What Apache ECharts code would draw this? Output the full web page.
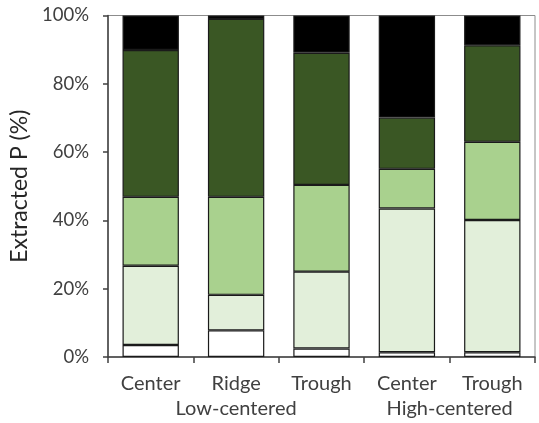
<!DOCTYPE html>
<html>
<head>
<meta charset="utf-8">
<script src="https://cdn.jsdelivr.net/npm/echarts@6/dist/echarts.min.js"></script>
<style>
  html, body { margin: 0; padding: 0; background: #fff; }
  #chart { width: 539px; height: 423px; }
</style>
</head>
<body>
<div id="chart"></div>
<script>
// Sites along the x axis and the landform group each belongs to
const categories = ['Center', 'Ridge', 'Trough', 'Center', 'Trough'];
const groups = ['Low-centered', 'High-centered'];
const groupSpans = [3, 2];

// Share of extracted P per fraction (%), bottom to top of each bar
const fraction1 = [3.5, 7.8, 2.5, 1.4, 1.4];
const fraction2 = [23.2, 10.4, 22.5, 42.1, 38.7];
const fraction3 = [20.2, 28.7, 25.4, 11.6, 22.9];
const fraction4 = [43.0, 52.1, 38.7, 15.0, 28.3];
const fraction5 = [10.1, 1.0, 10.9, 29.9, 8.7];

const yTicks = [0, 20, 40, 60, 80, 100];

const fractions = [fraction1, fraction2, fraction3, fraction4, fraction5];
const fills = ['#ffffff', '#e2efda', '#a9d18e', '#3a5724', '#000000'];

const textColor = '#404040';
const fontFamily = 'Lato, "Open Sans", sans-serif';

// centre of each group, in category units
const groupCentres = {};
let start = 0;
groups.forEach((g, i) => {
  groupCentres[(start + groupSpans[i] / 2).toFixed(1)] = g;
  start += groupSpans[i];
});

const chart = echarts.init(document.getElementById('chart'), null, { renderer: 'canvas' });

chart.setOption({
  animation: false,
  backgroundColor: '#ffffff',
  grid: {
    left: 108, right: 4, top: 15.5, bottom: 66,
    show: true, borderColor: '#8c8c8c', borderWidth: 1, backgroundColor: 'transparent'
  },
  xAxis: [
    {
      type: 'category',
      data: categories,
      axisLine: { lineStyle: { color: '#404040', width: 1.5 } },
      axisTick: { show: true, length: 6, lineStyle: { color: '#404040', width: 1.5 } },
      axisLabel: { color: textColor, fontSize: 20, fontFamily: fontFamily, margin: 17 }
    },
    {
      type: 'value',
      min: 0, max: categories.length, interval: 0.5,
      position: 'bottom',
      axisLine: { show: false },
      axisTick: { show: false },
      splitLine: { show: false },
      axisLabel: {
        color: textColor, fontSize: 20, fontFamily: fontFamily, margin: 42,
        showMinLabel: true, showMaxLabel: true,
        formatter: v => groupCentres[v.toFixed(1)] || ''
      }
    }
  ],
  yAxis: {
    type: 'value',
    min: yTicks[0], max: yTicks[yTicks.length - 1], interval: 20,
    name: 'Extracted P (%)',
    nameLocation: 'middle',
    nameGap: 72,
    nameTextStyle: { color: '#262626', fontSize: 23, fontFamily: fontFamily },
    axisLine: { show: true, lineStyle: { color: '#404040', width: 1.5 } },
    axisTick: { show: true, length: 5, lineStyle: { color: '#404040', width: 1.5 } },
    splitLine: { show: false },
    axisLabel: {
      color: textColor, fontSize: 18.5, fontFamily: fontFamily, margin: 19,
      formatter: '{value}%'
    }
  },
  series: fractions.map((vals, i) => ({
    name: 'fraction' + (i + 1),
    type: 'bar',
    stack: 'total',
    xAxisIndex: 0,
    barWidth: '66%',
    data: vals,
    itemStyle: { color: fills[i], borderColor: '#1a1a1a', borderWidth: 1.2 }
  }))
});
</script>
</body>
</html>
